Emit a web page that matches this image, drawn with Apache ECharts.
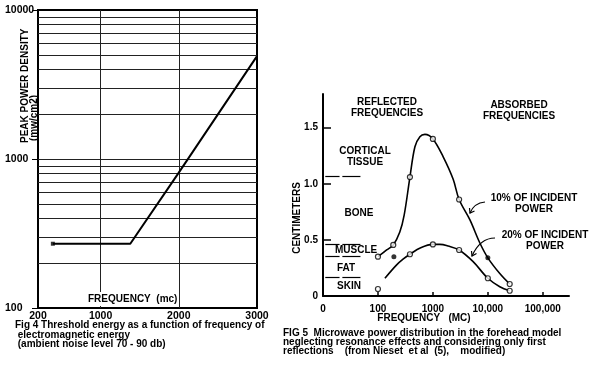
<!DOCTYPE html>
<html><head><meta charset="utf-8">
<script src="https://cdn.jsdelivr.net/npm/echarts@6/dist/echarts.min.js"></script>
<style>html,body{margin:0;padding:0;background:#fff}#c{width:600px;height:382px}</style>
</head><body><div id="c"></div>
<script>
// ---------- Fig 4 data ----------
const fig4Freq = [390, 1380, 2000, 3000];
const fig4Density = [270, 270, 810, 4900];
const fig4XTicks = [200, 1000, 2000, 3000];
const fig4GridY = [200, 300, 400, 500, 600, 700, 800, 900, 1000, 2000, 3000, 4000, 5000, 6000, 7000, 8000, 9000];
const fig4GridX = [1000, 2000];

// ---------- Fig 5 data ----------
const curve10Freq = [100, 144, 190, 250, 300, 382, 471, 580, 716, 1000, 1540, 2340, 3000, 4700, 7200, 10000, 16500, 25000];
const curve10Cm   = [0.35, 0.41, 0.455, 0.57, 0.72, 1.06, 1.33, 1.42, 1.44, 1.40, 1.24, 1.04, 0.86, 0.68, 0.47, 0.34, 0.20, 0.107];
const curve20Freq = [134, 219, 290, 382, 600, 1000, 1340, 1900, 3000, 5400, 10000, 16500, 25000];
const curve20Cm   = [0.158, 0.277, 0.33, 0.372, 0.43, 0.46, 0.46, 0.445, 0.41, 0.306, 0.158, 0.083, 0.047];
const open10Freq = [100, 190, 382, 1000, 3000, 25000];
const open10Cm   = [0.35, 0.455, 1.06, 1.40, 0.86, 0.107];
const open20Freq = [100, 382, 1000, 3000, 10000, 25000];
const open20Cm   = [0.0625, 0.372, 0.46, 0.41, 0.158, 0.047];
const filledFreq = [195, 10000];
const filledCm   = [0.35, 0.34];
const fig5XTicks = [10, 100, 1000, 10000, 100000];
const fig5XTickText = ['0', '100', '1000', '10,000', '100,000'];
const fig5YTicks = [0, 0.5, 1, 1.5];
const tissueBoundaryCm = [1.065, 0.464, 0.357, 0.17];
const tissueDashFreq = [[11, 20], [22.5, 48]];

const FONT = "'Liberation Sans', Arial, sans-serif";
const zip = (a, b) => a.map((v, i) => [v, b[i]]);

const chart = echarts.init(document.getElementById('c'), null, {renderer: 'canvas'});

const txt = (o) => ({type: 'text', z: 100, silent: true, ...o,
  style: Object.assign({fill: '#000', fontFamily: FONT, fontWeight: 'bold', fontSize: 10}, o.style)});

chart.setOption({
  animation: false,
  backgroundColor: '#fff',
  grid: [
    {left: 38, top: 10, width: 219, height: 298, show: true, borderColor: '#000', borderWidth: 2, backgroundColor: 'transparent'},
    {left: 323, top: 94, width: 246, height: 202}
  ],
  xAxis: [
    {gridIndex: 0, type: 'value', min: 200, max: 3000,
      axisLine: {lineStyle: {color: '#000', width: 2}},
      axisTick: {show: false}, splitLine: {show: false},
      axisLabel: {customValues: fig4XTicks, color: '#000', fontWeight: 'bold', fontSize: 10.5, fontFamily: FONT, margin: 3,
        formatter: v => String(v)}},
    {gridIndex: 1, type: 'log', logBase: 10, min: 10, max: 300000,
      axisLine: {lineStyle: {color: '#000', width: 2}},
      axisTick: {inside: true, length: 4, customValues: [100, 1000, 10000, 100000], lineStyle: {color: '#000', width: 1.5}},
      splitLine: {show: false}, minorTick: {show: false},
      axisLabel: {customValues: fig5XTicks, color: '#000', fontWeight: 'bold', fontSize: 10, fontFamily: FONT, margin: 8,
        formatter: v => { const i = fig5XTicks.findIndex(t => Math.abs(t - v) / t < 1e-6); return i >= 0 ? fig5XTickText[i] : ''; }}}
  ],
  yAxis: [
    {gridIndex: 0, type: 'log', logBase: 10, min: 100, max: 10000,
      axisLine: {lineStyle: {color: '#000', width: 2}},
      axisTick: {length: 6, lineStyle: {color: '#000'}}, splitLine: {show: false}, minorTick: {show: false},
      axisLabel: {color: '#000', fontWeight: 'bold', fontSize: 10.5, fontFamily: FONT, align: 'left', margin: 33,
        formatter: v => String(Math.round(v))}},
    {gridIndex: 1, type: 'value', min: 0, max: 1.8,
      axisLine: {lineStyle: {color: '#000', width: 2}},
      axisTick: {inside: true, length: 8, customValues: [0.5, 1, 1.5], lineStyle: {color: '#000', width: 1.5}},
      splitLine: {show: false},
      axisLabel: {customValues: fig5YTicks, color: '#000', fontWeight: 'bold', fontSize: 10, fontFamily: FONT, margin: 5,
        formatter: v => v === 0 ? '0' : v.toFixed(1)}}
  ],
  series: [
    {type: 'line', xAxisIndex: 0, yAxisIndex: 0, data: zip(fig4Freq, fig4Density), symbol: 'none',
      lineStyle: {color: '#000', width: 2}, z: 5,
      markLine: {silent: true, symbol: 'none', label: {show: false}, lineStyle: {color: '#222', width: 1, type: 'solid'},
        emphasis: {disabled: true},
        data: [...fig4GridY.map(v => ({yAxis: v})), ...fig4GridX.map(v => ({xAxis: v}))]}},
    {type: 'scatter', xAxisIndex: 0, yAxisIndex: 0, data: [[fig4Freq[0], fig4Density[0]]], symbol: 'rect', symbolSize: 4,
      itemStyle: {color: '#000'}, z: 6},
    {type: 'line', xAxisIndex: 1, yAxisIndex: 1, data: zip(curve10Freq, curve10Cm), smooth: 0.35, symbol: 'none',
      lineStyle: {color: '#000', width: 1.6},
      markLine: {silent: true, symbol: 'none', label: {show: false}, lineStyle: {color: '#000', width: 1.2, type: 'solid'},
        emphasis: {disabled: true},
        data: tissueBoundaryCm.flatMap(cm => tissueDashFreq.map(d => [{coord: [d[0], cm]}, {coord: [d[1], cm]}]))}},
    {type: 'line', xAxisIndex: 1, yAxisIndex: 1, data: zip(curve20Freq, curve20Cm), smooth: 0.35, symbol: 'none',
      lineStyle: {color: '#000', width: 1.6}},
    {type: 'scatter', xAxisIndex: 1, yAxisIndex: 1, data: zip(open10Freq, open10Cm).concat(zip(open20Freq, open20Cm)),
      symbol: 'circle', symbolSize: 5, itemStyle: {color: '#fff', borderColor: '#000', borderWidth: 1.2}, z: 5},
    {type: 'scatter', xAxisIndex: 1, yAxisIndex: 1, data: zip(filledFreq, filledCm),
      symbol: 'circle', symbolSize: 5, itemStyle: {color: '#000'}, z: 5}
  ],
  graphic: [
    // Fig 4 axis names
    txt({x: 25.5, y: 143, rotation: Math.PI / 2, style: {text: 'PEAK POWER DENSITY', textAlign: 'left', textVerticalAlign: 'middle'}}),
    txt({x: 34, y: 141, rotation: Math.PI / 2, style: {text: '(mw/cm2)', textAlign: 'left', textVerticalAlign: 'middle'}}),
    txt({x: 87, y: 299, style: {text: 'FREQUENCY  (mc)', textAlign: 'left', textVerticalAlign: 'middle', backgroundColor: '#fff', padding: [3, 1, 1, 1]}}),
    txt({x: 15, y: 321, style: {text: 'Fig 4 Threshold energy as a function of frequency of\n electromagnetic energy\n (ambient noise level 70 - 90 db)',
      fontSize: 10, lineHeight: 9.3, textAlign: 'left', textVerticalAlign: 'top'}}),
    // Fig 5 labels
    txt({x: 387, y: 97, style: {text: 'REFLECTED\nFREQUENCIES', textAlign: 'center', textVerticalAlign: 'top', lineHeight: 11}}),
    txt({x: 519, y: 100, style: {text: 'ABSORBED\nFREQUENCIES', textAlign: 'center', textVerticalAlign: 'top', lineHeight: 11}}),
    txt({x: 365, y: 146, style: {text: 'CORTICAL\nTISSUE', textAlign: 'center', textVerticalAlign: 'top', lineHeight: 11}}),
    txt({x: 359, y: 213, style: {text: 'BONE', textAlign: 'center', textVerticalAlign: 'middle'}}),
    txt({x: 335, y: 250, style: {text: 'MUSCLE', textAlign: 'left', textVerticalAlign: 'middle'}}),
    txt({x: 337, y: 268, style: {text: 'FAT', textAlign: 'left', textVerticalAlign: 'middle'}}),
    txt({x: 337, y: 286, style: {text: 'SKIN', textAlign: 'left', textVerticalAlign: 'middle'}}),
    txt({x: 297, y: 218, rotation: Math.PI / 2, style: {text: 'CENTIMETERS', textAlign: 'center', textVerticalAlign: 'middle'}}),
    txt({x: 424, y: 318, style: {text: 'FREQUENCY   (MC)', textAlign: 'center', textVerticalAlign: 'middle'}}),
    txt({x: 534, y: 193, style: {text: '10% OF INCIDENT\nPOWER', textAlign: 'center', textVerticalAlign: 'top', lineHeight: 11}}),
    txt({x: 545, y: 230, style: {text: '20% OF INCIDENT\nPOWER', textAlign: 'center', textVerticalAlign: 'top', lineHeight: 11}}),
    txt({x: 283, y: 329, style: {text: 'FIG 5  Microwave power distribution in the forehead model\nneglecting resonance effects and considering only first\nreflections    (from Nieset  et al  (5),    modified)',
      fontSize: 10, lineHeight: 9, textAlign: 'left', textVerticalAlign: 'top'}}),
    // leader arrows
    {type: 'bezierCurve', z: 100, silent: true, shape: {x1: 485, y1: 202, cpx1: 474, cpy1: 203, x2: 470, y2: 213},
      style: {stroke: '#000', lineWidth: 1.2, fill: null}},
    {type: 'polyline', z: 100, silent: true, shape: {points: [[469.5, 208], [470, 213], [474.5, 211]]},
      style: {stroke: '#000', lineWidth: 1.2, fill: null}},
    {type: 'bezierCurve', z: 100, silent: true, shape: {x1: 495, y1: 238, cpx1: 480, cpy1: 238, x2: 472, y2: 256},
      style: {stroke: '#000', lineWidth: 1.2, fill: null}},
    {type: 'polyline', z: 100, silent: true, shape: {points: [[471.5, 251], [472, 256], [476.5, 253.5]]},
      style: {stroke: '#000', lineWidth: 1.2, fill: null}}
  ]
});
</script></body></html>
